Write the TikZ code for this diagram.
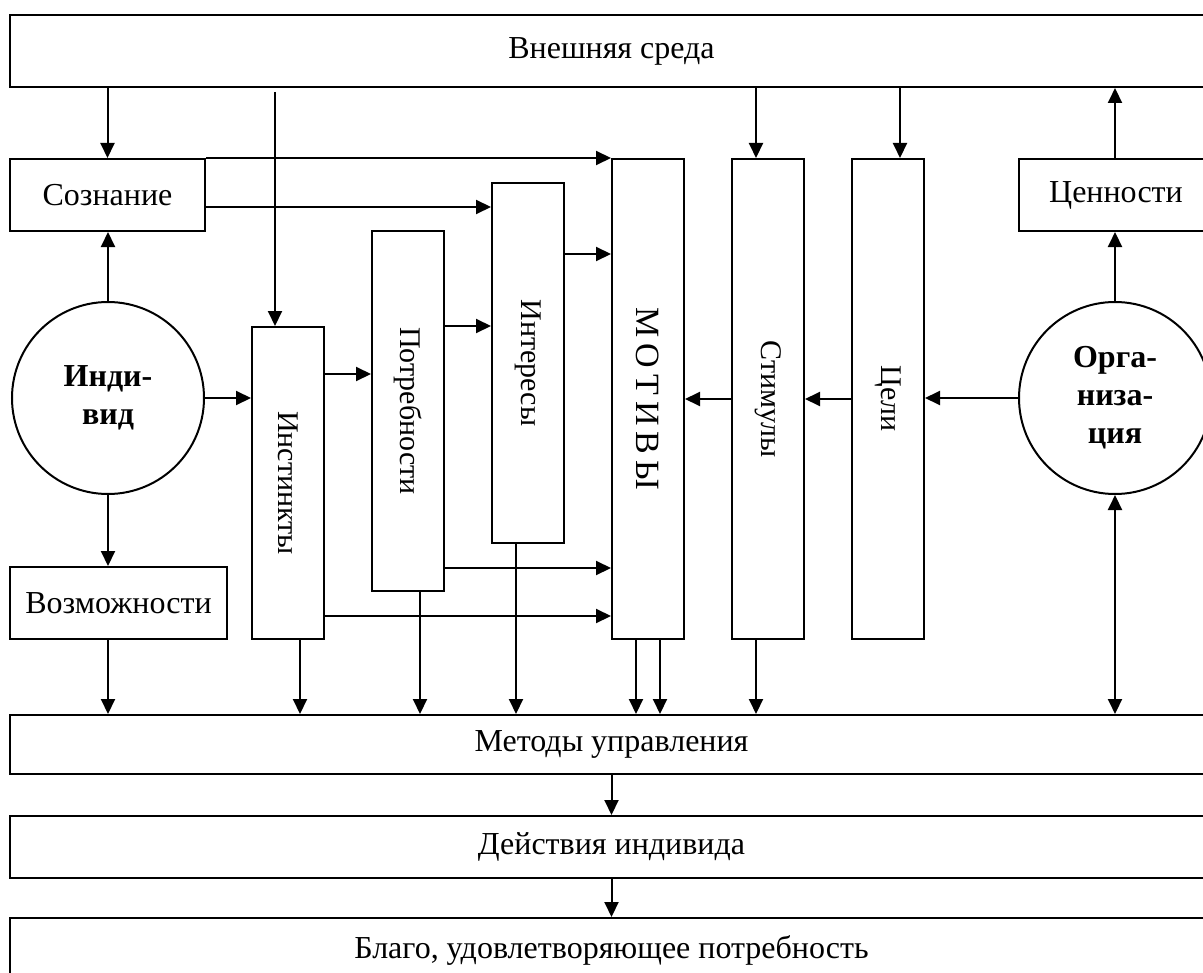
\documentclass[tikz,border=0pt]{standalone}
\usepackage{fontspec}
\setmainfont{Liberation Serif}
\usepackage{graphicx}
\usetikzlibrary{arrows.meta, calc}

\begin{document}
\begin{tikzpicture}[x=0.5pt, y=-0.5pt,
  box/.style={draw, line width=1pt, inner sep=0pt, font=\fontsize{16}{19}\selectfont},
  col/.style={draw, line width=1pt, inner sep=0pt, minimum width=36pt, font=\fontsize{15}{18}\selectfont},
  orb/.style={draw, circle, line width=1pt, minimum size=96pt, inner sep=0pt, align=center, font=\fontsize{16}{19}\selectfont\bfseries},
  tip/.tip={Triangle[length=7.5pt, width=7pt]},
  arr/.style={-tip, line width=1pt}]
  \useasboundingbox (0,0) rectangle (1203,973);
  \clip (0,0) rectangle (1203,973);

  % Outer frame rows
  \node[box, minimum width=601.5pt, minimum height=36pt] (env) at (611.5,51) {Внешняя среда};
  \node[box, minimum width=601.5pt, minimum height=29.5pt] (methods) at (611.5,744.5) {Методы управления};
  \node[box, minimum width=601.5pt, minimum height=31pt] (acts) at (611.5,847) {Действия индивида};
  \node[box, minimum width=601.5pt, minimum height=32pt] (good) at (611.5,950) {Благо, удовлетворяющее потребность};

  % Individual side
  \node[box, minimum width=97.5pt, minimum height=36pt] (cons) at (107.5,195) {Сознание};
  \node[orb] (indiv) at (108,398) {Инди-\\вид};
  \node[box, minimum width=108.5pt, minimum height=36pt] (poss) at (118.5,603) {Возможности};

  % Columns
  \node[col, minimum height=156pt] (inst) at (288,483) {\rotatebox{-90}{Инстинкты}};
  \node[col, minimum height=180pt] (need) at (408,411) {\rotatebox{-90}{Потребности}};
  \node[col, minimum height=180pt] (inter) at (528,363) {\rotatebox{-90}{Интересы}};
  \node[col, minimum height=240pt, font=\fontsize{17}{20}\selectfont] (motiv) at (648,399)
    {\rotatebox{-90}{М\hspace{3pt}О\hspace{3pt}Т\hspace{3pt}И\hspace{3pt}В\hspace{3pt}Ы}};
  \node[col, minimum height=240pt] (stim) at (768,399) {\rotatebox{-90}{Стимулы}};
  \node[col, minimum height=240pt] (goal) at (888,399) {\rotatebox{-90}{Цели}};

  % Organisation side
  \node[box, minimum width=97pt, minimum height=36pt] (vals) at (1116,195) {Ценности};
  \node[orb] (org) at (1115,398) {Орга-\\низа-\\ция};

  % Individual links
  \draw[arr] (env.south -| cons.north) -- (cons.north);
  \draw[arr] (indiv.north) -- (indiv.north |- cons.south);
  \draw[arr] (indiv.south) -- (indiv.south |- poss.north);
  \draw[arr] (indiv.east) -- (indiv.east -| inst.west);
  \coordinate (drop) at (275,92);
  \draw[arr] (drop) -- (drop |- inst.north);

  % Into the columns
  \coordinate (c1) at ($(cons.east)+(0,12)$);
  \coordinate (i1) at ($(inter.north east)+(0,72)$);
  \coordinate (n1) at ($(need.north east)+(0,96)$);
  \coordinate (t1) at ($(inst.north east)+(0,48)$);
  \coordinate (n2) at ($(need.south east)+(0,-24)$);
  \coordinate (t2) at ($(inst.south east)+(0,-24)$);
  \draw[arr] (cons.north east) -- (motiv.north west);
  \draw[arr] (c1) -- (c1 -| inter.west);
  \draw[arr] (i1) -- (i1 -| motiv.west);
  \draw[arr] (n1) -- (n1 -| inter.west);
  \draw[arr] (t1) -- (t1 -| need.west);
  \draw[arr] (n2) -- (n2 -| motiv.west);
  \draw[arr] (t2) -- (t2 -| motiv.west);

  % Organisation links
  \draw[arr] (stim.west) -- (motiv.east);
  \draw[arr] (goal.west) -- (stim.east);
  \draw[arr] (org.west) -- (org.west -| goal.east);
  \draw[arr] (org.north) -- (org.north |- vals.south);
  \draw[arr] (org.north |- vals.north) -- (org.north |- env.south);
  \coordinate (s1) at ($(stim.north)+(-12,0)$);
  \coordinate (g1) at ($(goal.north)+(12,0)$);
  \draw[arr] (s1 |- env.south) -- (s1);
  \draw[arr] (g1 |- env.south) -- (g1);

  % Down to the methods
  \draw[arr] (poss.south -| indiv.south) -- (indiv.south |- methods.north);
  \foreach \src/\dx [count=\k] in {inst/12, need/12, inter/-12, motiv/-12, motiv/12, stim/-12} {
    \coordinate (d\k) at ($(\src.south)+(\dx,0)$);
    \draw[arr] (d\k) -- (d\k |- methods.north);
  }
  \draw[tip-tip, line width=1pt] (org.south) -- (org.south |- methods.north);

  % Result chain
  \draw[arr] (methods.south) -- (acts.north);
  \draw[arr] (acts.south) -- (acts.south |- good.north);
\end{tikzpicture}
\end{document}
